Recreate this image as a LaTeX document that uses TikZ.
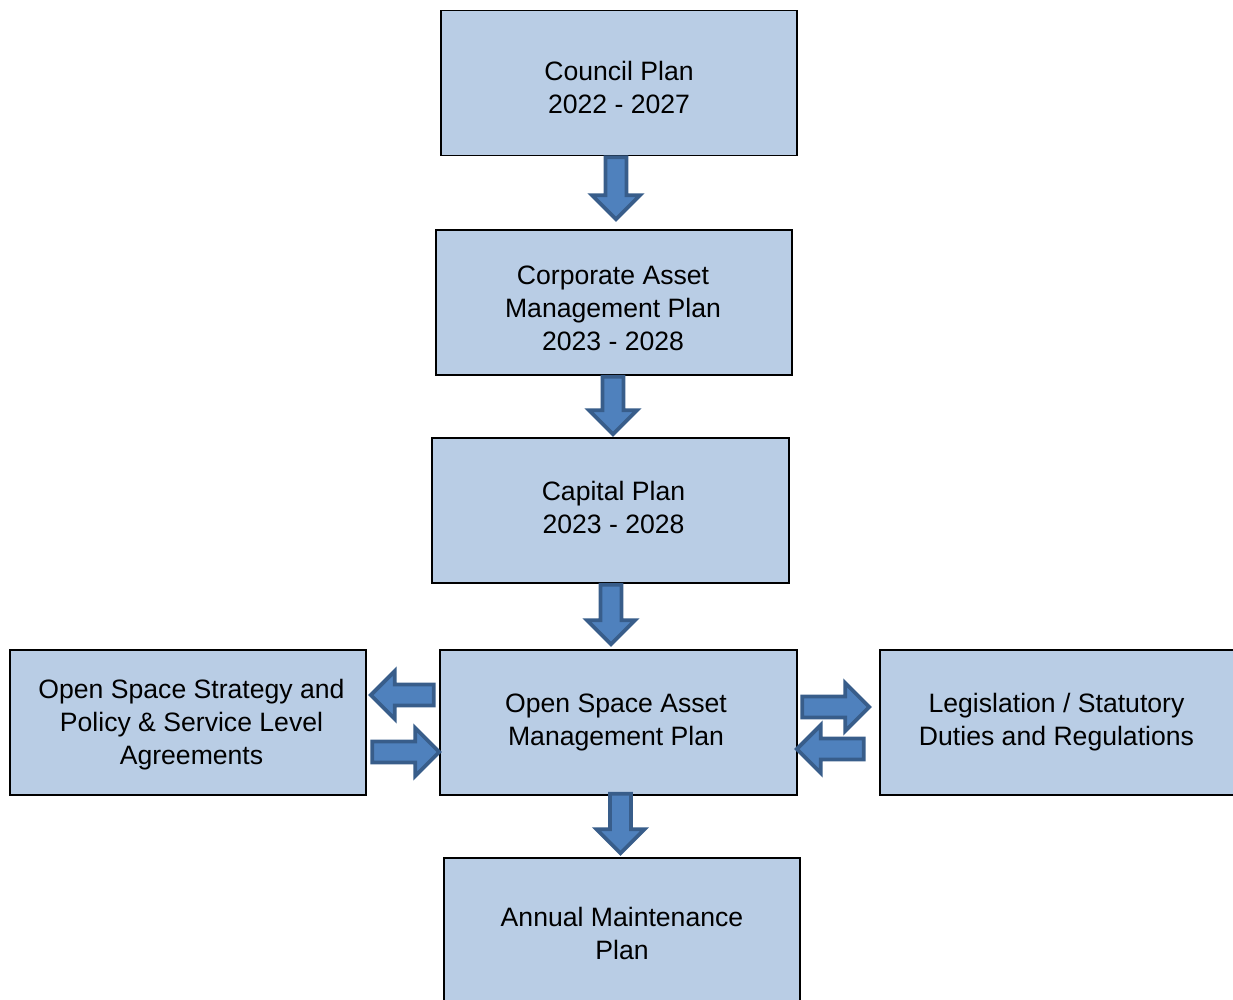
\documentclass[tikz,border=0pt]{standalone}
\usepackage{fontspec}
\setmainfont{Liberation Sans}
\usetikzlibrary{calc}
\definecolor{boxfill}{HTML}{B9CDE5}
\definecolor{arrfill}{HTML}{4F81BD}
\definecolor{arrline}{HTML}{385D8A}
\tikzset{
  planbox/.style={draw=black, line width=1.6pt, fill=boxfill,
    minimum width=356pt, minimum height=145pt, inner sep=0pt,
    font=\fontsize{26.6}{33}\selectfont},
  blockarrow/.style={draw=arrline, fill=arrfill, line width=3.8pt, line join=miter}
}
% #1 horizontal shift, #2 downward shift, #3 lines
\newcommand\btext[3]{\raisebox{0pt}[\dimexpr\height+#2\relax][\dimexpr\depth-#2\relax]{\hspace*{#1}\begin{tabular}{@{}c@{}}#3\end{tabular}\hspace*{-#1}}}
\newcommand\blockarrow[2]{%
  \coordinate (baS) at (#1);
  \coordinate (baT) at (#2);
  \coordinate (baH) at ($(baT)!24pt!(baS)$);
  \draw[blockarrow] ($(baS)!10.5pt!90:(baT)$) -- ($(baH)!10.5pt!90:(baT)$) -- ($(baH)!24pt!90:(baT)$) -- (baT)
    -- ($(baH)!24pt!-90:(baT)$) -- ($(baH)!10.5pt!-90:(baT)$) -- ($(baS)!10.5pt!-90:(baT)$) -- cycle;}
\begin{document}
\begin{tikzpicture}[x=1pt,y=1pt]
\useasboundingbox (0,0) rectangle (1233,-999);
\clip (0,0) rectangle (1233,-999);
\node[planbox] (council) at (619,-83) {\btext{0pt}{6.9pt}{Council Plan\\2022 - 2027}};
\node[planbox] (corp) at (614,-302.5) {\btext{-1pt}{8.4pt}{Corporate Asset\\Management Plan\\2023 - 2028}};
\node[planbox, minimum width=357pt] (capital) at (610.5,-510.5) {\btext{3pt}{0pt}{Capital Plan\\2023 - 2028}};
\node[planbox, minimum width=357pt] (osamp) at (618.5,-722.5) {\btext{-2.5pt}{0pt}{Open Space Asset\\Management Plan}};
\node[planbox] (left) at (188,-722.5) {\btext{3.5pt}{2.4pt}{Open Space Strategy and\\Policy \& Service Level\\Agreements}};
\node[planbox] (right) at (1058,-722.5) {\btext{-1.5pt}{0pt}{Legislation / Statutory\\Duties and Regulations}};
\node[planbox] (annual) at (622,-930.5) {\btext{0pt}{6pt}{Annual Maintenance\\Plan}};
\blockarrow{[xshift=-3pt,yshift=-1pt]council.south}{[xshift=2pt,yshift=10pt]corp.north}
\blockarrow{[xshift=-1pt,yshift=-1pt]corp.south}{[xshift=2.5pt,yshift=3pt]capital.north}
\blockarrow{[xshift=0.5pt,yshift=-1pt]capital.south}{[xshift=-7.5pt,yshift=5pt]osamp.north}
\blockarrow{[xshift=2pt,yshift=2pt]osamp.south}{[xshift=-1.5pt,yshift=4pt]annual.north}
\blockarrow{[xshift=-5.5pt,yshift=27.5pt]osamp.west}{[xshift=4pt,yshift=27.5pt]left.east}
\blockarrow{[xshift=5.5pt,yshift=-29.5pt]left.east}{[xshift=0pt,yshift=-29.5pt]osamp.west}
\blockarrow{[xshift=4.5pt,yshift=15.5pt]osamp.east}{[xshift=-10pt,yshift=15.5pt]right.west}
\blockarrow{[xshift=-15.5pt,yshift=-26.5pt]right.west}{[xshift=-1pt,yshift=-26.5pt]osamp.east}
\end{tikzpicture}
\end{document}
